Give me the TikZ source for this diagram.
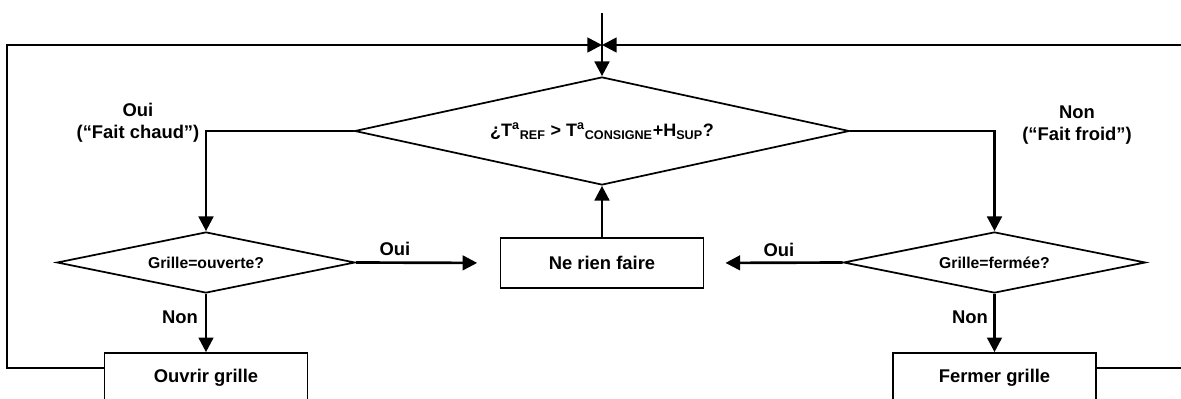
\documentclass[tikz,border=0pt]{standalone}
\usepackage{fontspec}
\setmainfont{Liberation Sans}
\usetikzlibrary{shapes.geometric,arrows.meta}
\tikzset{
  decision/.style={diamond,draw,line width=1.3pt,inner sep=0pt,aspect=4.6,
    font=\fontsize{11.8}{14}\selectfont\bfseries},
  action/.style={rectangle,draw,line width=1.2pt,minimum width=152pt,minimum height=37.5pt,
    font=\fontsize{13.8}{16.5}\selectfont\bfseries},
  flow/.style={line width=2pt,-{Triangle[length=11pt,width=11pt]}},
  answer/.style={align=center,inner sep=0pt,font=\fontsize{13.8}{16.5}\selectfont\bfseries}
}
\begin{document}
\begin{tikzpicture}[x=0.75pt,y=-0.75pt]
        \useasboundingbox (0,0) rectangle (1181,399);

        %% decisions
        \node (test) at (602,131) [decision,minimum width=371pt,minimum height=81pt,
          font=\fontsize{13.5}{16}\selectfont\bfseries]
          {¿T\textsuperscript{a}\textsubscript{REF} > T\textsuperscript{a}\textsubscript{CONSIGNE}+H\textsubscript{SUP}?};
        \node (ouverte) at (206,262.5) [decision,minimum width=223.5pt,minimum height=45.75pt] {Grille=ouverte?};
        \node (fermee) at (994.5,262.5) [decision,minimum width=226.5pt,minimum height=45.75pt] {Grille=fermée?};

        %% actions
        \node (rien) at (602,263) [action] {Ne rien faire};
        \node (ouvrir) at (206,378) [action] {Ouvrir grille};
        \node (fermer) at (994.5,378) [action] {Fermer grille};

        %% loop points
        \coordinate (start) at (602,13);
        \coordinate (jn) at (602,45);
        \coordinate (loopL) at (7,368);
        \coordinate (loopR) at (1186,368);

        %% connectors
        \draw[flow] (start) -- (test.north);
        \draw[flow] (loopL -| ouvrir.west) -- (loopL) |- (jn);
        \draw[flow] (loopR -| fermer.east) -- (loopR) |- (jn);
        \draw[flow] (test.west) -| (ouverte.north);
        \draw[flow] (test.east) -| (fermee.north);
        \draw[flow,shorten >=17pt] (ouverte.east) -- (rien.west);
        \draw[flow,shorten >=16pt] (fermee.west) -- (rien.east);
        \draw[flow] (rien.north) -- (test.south);
        \draw[flow] (ouverte.south) -- (ouvrir.north);
        \draw[flow] (fermee.south) -- (fermer.north);

        %% labels
        \node (lchaud) at (138,123) [answer] {Oui\\(“Fait chaud”)};
        \node (lfroid) at (1077,125) [answer] {Non\\(“Fait froid”)};
        \node (louiL) at (395,249) [answer] {Oui};
        \node (louiR) at (779,250) [answer] {Oui};
        \node (lnonL) at (180,317) [answer] {Non};
        \node (lnonR) at (970,317) [answer] {Non};
\end{tikzpicture}
\end{document}
